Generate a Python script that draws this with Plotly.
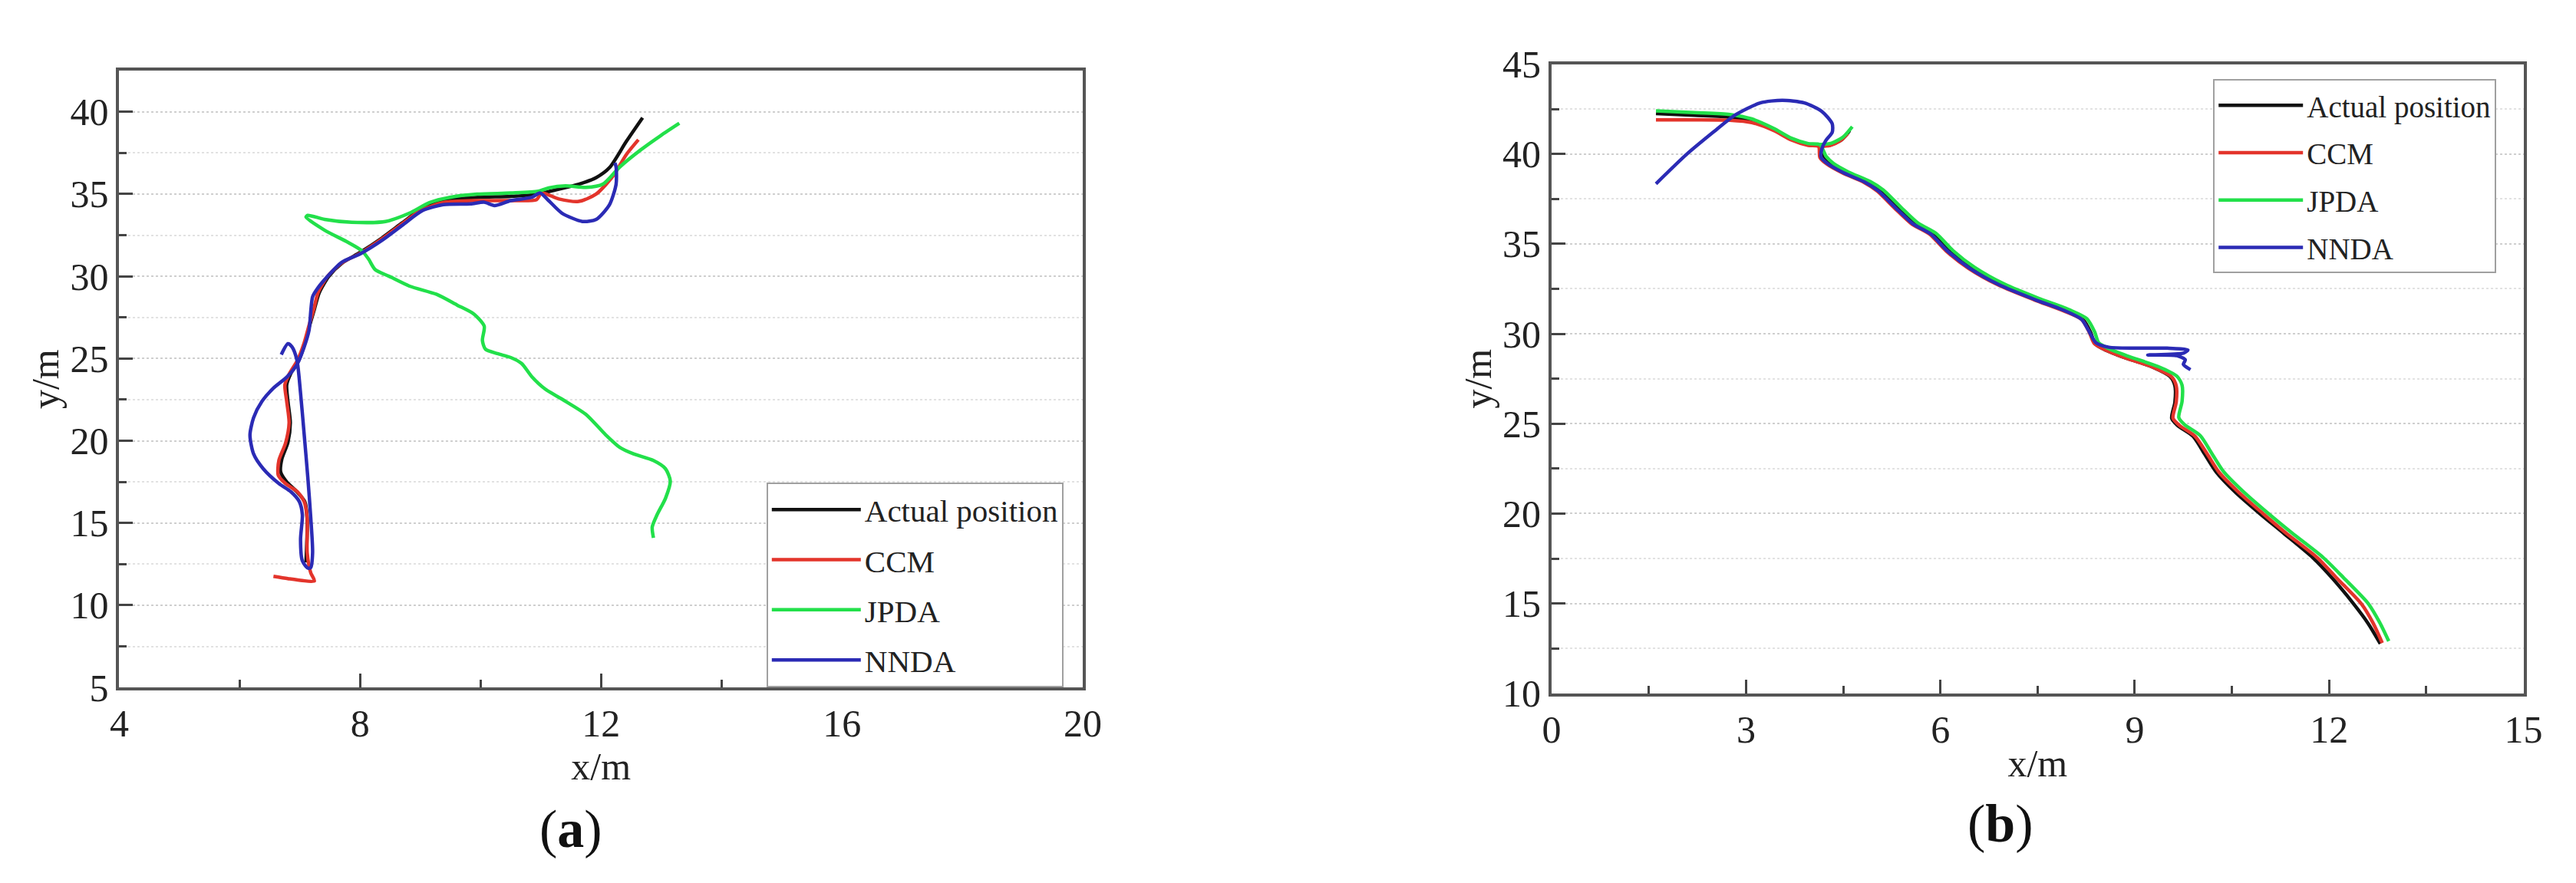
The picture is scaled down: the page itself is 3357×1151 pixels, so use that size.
import plotly.graph_objects as go

# ---------------- data: panel (a) ----------------
act_a_x = [7.10, 7.12, 7.08, 6.95, 6.78, 6.68, 6.70, 6.80, 6.84, 6.80, 6.78, 6.85, 6.98, 7.08, 7.16, 7.24,
           7.32, 7.48, 7.70, 8.00, 8.37, 8.70, 9.00, 9.40, 9.95, 10.50, 10.95, 11.30, 11.63, 11.92, 12.14,
           12.42, 12.69]
act_a_y = [12.6, 15.2, 16.3, 16.9, 17.5, 18.1, 18.9, 19.9, 21.1, 22.4, 23.4, 24.1, 24.9, 25.9, 27.0, 28.0,
           29.0, 30.0, 30.8, 31.45, 32.35, 33.25, 34.05, 34.6, 34.8, 34.85, 35.0, 35.3, 35.6, 36.0, 36.6,
           38.2, 39.64]

ccm_a_x = [6.56, 6.80, 7.04, 7.24, 7.18, 7.12, 7.12, 7.07, 6.96, 6.76, 6.64, 6.65, 6.76, 6.82, 6.78, 6.75,
           6.82, 6.96, 7.07, 7.15, 7.23, 7.30, 7.46, 7.69, 8.00, 8.37, 8.70, 8.99, 9.38, 9.94, 10.50, 10.93,
           11.01, 11.30, 11.63, 11.92, 12.20, 12.42, 12.62]
ccm_a_y = [11.76, 11.62, 11.50, 11.48, 11.96, 13.2, 15.3, 16.3, 16.9, 17.4, 17.9, 18.8, 19.85, 21.1, 22.4,
           23.4, 24.05, 24.9, 25.95, 27.0, 28.0, 29.0, 30.0, 30.8, 31.4, 32.3, 33.2, 33.97, 34.48, 34.6,
           34.6, 34.66, 35.06, 34.7, 34.55, 35.0, 36.1, 37.4, 38.3]

jpda_a_x = [12.87, 12.85, 12.93, 13.07, 13.15, 13.07, 12.87, 12.54, 12.31, 12.08, 11.75, 11.41, 11.07, 10.85,
            10.68, 10.50, 10.28, 10.08, 10.03, 10.06, 9.89, 9.61, 9.27, 8.82, 8.48, 8.25, 8.14, 8.03, 7.80,
            7.41, 7.10, 7.13, 7.41, 7.86, 8.42, 8.82, 9.15, 9.49, 9.94, 10.50, 10.96, 11.13, 11.41, 11.75,
            12.03, 12.31, 12.65, 12.99, 13.30]
jpda_a_y = [14.1, 14.76, 15.5, 16.5, 17.55, 18.3, 18.8, 19.2, 19.6, 20.35, 21.6, 22.4, 23.15, 23.9, 24.7,
            25.06, 25.3, 25.57, 26.1, 26.97, 27.7, 28.25, 28.9, 29.4, 30.0, 30.4, 31.04, 31.55, 32.06, 32.8,
            33.6, 33.7, 33.46, 33.28, 33.33, 33.84, 34.48, 34.8, 34.99, 35.06, 35.17, 35.37, 35.5, 35.4,
            35.6, 36.64, 37.66, 38.55, 39.3]

nnda_a_x = [6.69, 6.80, 6.87, 6.95, 7.01, 7.07, 7.13, 7.18, 7.21, 7.18, 7.13, 7.04, 7.01, 7.04, 6.99, 6.85,
            6.65, 6.39, 6.23, 6.17, 6.23, 6.37, 6.56, 6.79, 6.96, 7.07, 7.15, 7.21, 7.30, 7.46, 7.69, 8.00,
            8.37, 8.70, 9.04, 9.38, 9.83, 10.06, 10.23, 10.50, 10.85, 10.99, 11.13, 11.35, 11.69, 11.92,
            12.14, 12.25, 12.25, 12.23]
nnda_a_y = [25.24, 25.9, 25.7, 24.9, 22.9, 20.4, 17.8, 15.3, 13.2, 12.3, 12.26, 12.7, 14.0, 15.5, 16.3, 16.9,
            17.4, 18.3, 19.2, 20.35, 21.4, 22.4, 23.2, 23.9, 24.7, 25.7, 26.7, 28.75, 29.3, 30.0, 30.84,
            31.36, 32.2, 33.1, 34.0, 34.35, 34.4, 34.5, 34.3, 34.6, 34.8, 35.06, 34.6, 33.84, 33.33, 33.46,
            34.35, 35.6, 36.64, 36.9]

# ---------------- data: panel (b) ----------------
act_b_x = [1.61, 2.20, 2.75, 3.09, 3.43, 3.70, 3.96, 4.12, 4.19, 4.30, 4.53, 4.87, 5.07, 5.34, 5.61, 5.88,
           6.14, 6.48, 6.95, 7.49, 7.95, 8.20, 8.32, 8.38, 8.50, 8.80, 9.28, 9.55, 9.62, 9.62, 9.57, 9.66,
           9.90, 10.08, 10.26, 10.55, 10.93, 11.30, 11.75, 12.05, 12.38, 12.60, 12.79,
           None, 4.12, 4.30, 4.48, 4.60]
act_b_y = [42.25, 42.15, 42.05, 41.85, 41.36, 40.82, 40.52, 40.45, 39.81, 39.43, 38.96, 38.42, 37.95, 37.0,
           36.1, 35.55, 34.6, 33.65, 32.7, 31.9, 31.28, 30.8, 30.07, 29.48, 29.18, 28.73, 28.14, 27.6, 27.1,
           26.2, 25.3, 24.9, 24.3, 23.3, 22.3, 21.2, 20.0, 18.9, 17.54, 16.4, 14.97, 13.9, 12.76,
           None, 40.45, 40.5, 40.8, 41.3]

ccm_b_x = [1.61, 2.20, 2.75, 3.09, 3.43, 3.70, 3.96, 4.12, 4.14, 4.25, 4.48, 4.82, 5.02, 5.29, 5.56, 5.83,
           6.09, 6.43, 6.90, 7.44, 7.90, 8.18, 8.30, 8.37, 8.50, 8.80, 9.28, 9.57, 9.64, 9.64, 9.59, 9.69,
           9.93, 10.12, 10.30, 10.60, 10.98, 11.34, 11.82, 12.12, 12.50, 12.68, 12.82,
           None, 4.12, 4.30, 4.46, 4.57]
ccm_b_y = [41.9, 41.9, 41.88, 41.75, 41.3, 40.78, 40.48, 40.42, 39.81, 39.43, 38.96, 38.42, 37.95, 37.0,
           36.1, 35.55, 34.6, 33.65, 32.7, 31.9, 31.28, 30.8, 30.07, 29.48, 29.18, 28.73, 28.14, 27.6, 27.1,
           26.2, 25.3, 24.9, 24.3, 23.3, 22.3, 21.2, 20.0, 18.9, 17.54, 16.4, 14.97, 13.9, 12.8,
           None, 40.42, 40.48, 40.75, 41.13]

jpda_b_x = [1.61, 2.20, 2.75, 3.09, 3.43, 3.70, 3.96, 4.14, 4.24, 4.35, 4.58, 4.92, 5.12, 5.39, 5.66, 5.93,
            6.19, 6.53, 7.00, 7.54, 8.00, 8.26, 8.38, 8.44, 8.57, 8.88, 9.36, 9.65, 9.73, 9.73, 9.68, 9.77,
            10.01, 10.19, 10.37, 10.67, 11.05, 11.42, 11.90, 12.22, 12.60, 12.78, 12.92,
            None, 4.14, 4.32, 4.50, 4.64]
jpda_b_y = [42.4, 42.3, 42.2, 41.95, 41.42, 40.88, 40.58, 40.52, 39.85, 39.47, 39.0, 38.46, 37.99, 37.04,
            36.14, 35.59, 34.64, 33.69, 32.74, 31.94, 31.32, 30.84, 30.11, 29.52, 29.22, 28.77, 28.18, 27.64,
            27.14, 26.24, 25.34, 24.94, 24.34, 23.34, 22.34, 21.24, 20.04, 18.94, 17.58, 16.44, 15.01,
            13.94, 12.9,
            None, 40.52, 40.6, 40.95, 41.52]

nnda_b_x = [1.61, 2.08, 2.49, 2.82, 3.22, 3.56, 3.90, 4.17, 4.33, 4.33, 4.23, 4.17, 4.16, 4.27, 4.50, 4.84,
            5.04, 5.31, 5.58, 5.85, 6.11, 6.45, 6.92, 7.46, 7.92, 8.18, 8.30, 8.40, 8.60, 9.00, 9.50, 9.82,
            9.75, 9.20, 9.65, 9.78, 9.75, 9.86]
nnda_b_y = [38.34, 39.97, 41.2, 42.14, 42.84, 42.99, 42.84, 42.37, 41.68, 41.2, 40.74, 40.28, 39.81, 39.43,
            38.96, 38.42, 37.95, 37.0, 36.1, 35.55, 34.6, 33.65, 32.7, 31.9, 31.28, 30.8, 30.1, 29.5, 29.25,
            29.2, 29.2, 29.1, 28.92, 28.82, 28.78, 28.55, 28.3, 28.0]

series_names = ["Actual position", "CCM", "JPDA", "NNDA"]
series_colors = ["#111111", "#e3342b", "#22e04a", "#2b2bb5"]

x_ticks_a = [4, 8, 12, 16, 20]
y_ticks_a = [5, 10, 15, 20, 25, 30, 35, 40]
x_ticks_b = [0, 3, 6, 9, 12, 15]
y_ticks_b = [10, 15, 20, 25, 30, 35, 40, 45]

panel_a = [(act_a_x, act_a_y), (ccm_a_x, ccm_a_y), (jpda_a_x, jpda_a_y), (nnda_a_x, nnda_a_y)]
panel_b = [(act_b_x, act_b_y), (ccm_b_x, ccm_b_y), (jpda_b_x, jpda_b_y), (nnda_b_x, nnda_b_y)]

FONT = "Liberation Serif, Times New Roman, serif"

fig = go.Figure()
for i, ((xs, ys), name, col) in enumerate(zip(panel_a, series_names, series_colors)):
    fig.add_trace(go.Scatter(x=xs, y=ys, mode="lines", name=name, xaxis="x", yaxis="y",
                             line=dict(color=col, width=4.5, shape="spline", smoothing=0.7),
                             legend="legend", legendgroup=f"a{i}"))
for i, ((xs, ys), name, col) in enumerate(zip(panel_b, series_names, series_colors)):
    fig.add_trace(go.Scatter(x=xs, y=ys, mode="lines", name=name, xaxis="x2", yaxis="y2",
                             line=dict(color=col, width=4.5, shape="spline", smoothing=0.7),
                             legend="legend2", legendgroup=f"b{i}", connectgaps=False))

W, H = 3357, 1151

def xax(domain, rng, ticks, minor_dtick, anchor):
    return dict(domain=domain, range=rng, tickvals=ticks, anchor=anchor,
                ticks="inside", ticklen=18, tickwidth=3, tickcolor="#444",
                minor=dict(ticks="inside", ticklen=10, tickwidth=3, tickcolor="#444",
                           dtick=minor_dtick, tick0=rng[0], showgrid=False),
                showline=True, linecolor="#555", linewidth=4, mirror=True,
                showgrid=False, zeroline=False,
                tickfont=dict(family=FONT, size=50, color="#222"),
                title=dict(text="x/m", font=dict(family=FONT, size=50, color="#222"), standoff=0))

def yax(domain, rng, ticks, anchor):
    return dict(domain=domain, range=rng, tickvals=ticks, anchor=anchor,
                ticks="inside", ticklen=18, tickwidth=3, tickcolor="#444",
                minor=dict(ticks="inside", ticklen=10, tickwidth=3, tickcolor="#444",
                           dtick=2.5, tick0=rng[0], showgrid=True, gridcolor="#e2e2e2",
                           griddash="dot", gridwidth=2),
                showline=True, linecolor="#555", linewidth=4, mirror=True,
                showgrid=True, gridcolor="#cfcfcf", griddash="dot", gridwidth=2,
                zeroline=False,
                tickfont=dict(family=FONT, size=50, color="#222"),
                title=dict(text="y/m", font=dict(family=FONT, size=50, color="#222"), standoff=0))

legend_common = dict(bgcolor="white", bordercolor="#a0a0a0", borderwidth=2,
                     xanchor="left", yanchor="top", traceorder="grouped")

fig.update_layout(
    width=W, height=H,
    margin=dict(l=0, r=0, t=0, b=0),
    paper_bgcolor="white", plot_bgcolor="white",
    font=dict(family=FONT, color="#222"),
    showlegend=True,
    xaxis=xax([136 / W, 1406 / W], [4, 20], x_ticks_a, 2, "y"),
    yaxis=yax([1 - 905 / H, 1 - 59 / H], [5, 42.5], y_ticks_a, "x"),
    xaxis2=xax([2024 / W, 3305 / W], [0, 15], x_ticks_b, 1.5, "y2"),
    yaxis2=yax([1 - 913 / H, 1 - 50 / H], [10, 45], y_ticks_b, "x2"),
    legend=dict(x=989 / W, y=1 - 624 / H, itemwidth=116, tracegroupgap=9,
                font=dict(family=FONT, size=41, color="#222"), **legend_common),
    legend2=dict(x=2896 / W, y=1 - 71 / H, itemwidth=110, tracegroupgap=8,
                 font=dict(family=FONT, size=39, color="#222"), **legend_common),
    annotations=[
        dict(text="(<b>a</b>)", x=731 / W, y=1 - 1099 / H, xref="paper", yref="paper",
             showarrow=False, font=dict(family=FONT, size=70, color="#111"),
             xanchor="center", yanchor="middle"),
        dict(text="(<b>b</b>)", x=2616 / W, y=1 - 1092 / H, xref="paper", yref="paper",
             showarrow=False, font=dict(family=FONT, size=70, color="#111"),
             xanchor="center", yanchor="middle"),
    ],
)

fig.write_html("out.html")
